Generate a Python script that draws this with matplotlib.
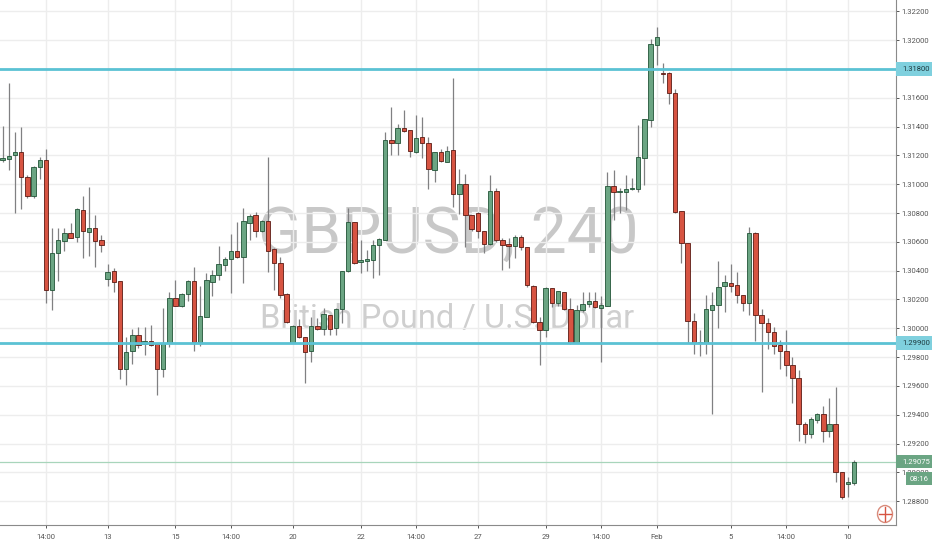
import matplotlib
matplotlib.use("Agg")
import matplotlib.pyplot as plt
from matplotlib.patches import Rectangle, Ellipse
from matplotlib.transforms import blended_transform_factory
import numpy as np

# GBPUSD 4h candles
opens = [1.31171, 1.31175, 1.31201, 1.31224, 1.31053, 1.30918, 1.31117, 1.31168, 1.30266, 1.30520,
         1.30608, 1.30664, 1.30636, 1.30821, 1.30671, 1.30694, 1.30613, 1.30342, 1.30395, 1.30328,
         1.29720, 1.29842, 1.29951, 1.29889, 1.29912, 1.29891, 1.29715, 1.29900, 1.30213, 1.30157,
         1.30236, 1.30328, 1.29905, 1.30081, 1.30324, 1.30368, 1.30439, 1.30481, 1.30537, 1.30497,
         1.30733, 1.30784, 1.30675, 1.30745, 1.30548, 1.30456, 1.30236, 1.29900, 1.30016, 1.29937,
         1.29842, 1.30016, 1.29997, 1.30090, 1.30004, 1.30132, 1.30395, 1.30736, 1.30458, 1.30470,
         1.30476, 1.30578, 1.30613, 1.31307, 1.31284, 1.31388, 1.31377, 1.31226, 1.31326, 1.31284,
         1.31099, 1.31226, 1.31157, 1.31238, 1.30930, 1.31002, 1.30787, 1.30798, 1.30678, 1.30585,
         1.30955, 1.30613, 1.30583, 1.30571, 1.30636, 1.30567, 1.30296, 1.30046, 1.29988, 1.30277,
         1.30173, 1.30250, 1.30136, 1.29896, 1.30127, 1.30169, 1.30192, 1.30139, 1.30157, 1.30988,
         1.30946, 1.30946, 1.30965, 1.30965, 1.31185, 1.31446, 1.31967, 1.31775, 1.31770, 1.31636,
         1.30817, 1.30594, 1.30053, 1.29900, 1.29900, 1.30127, 1.30159, 1.30294, 1.30317, 1.30301,
         1.30231, 1.30178, 1.30664, 1.30090, 1.30039, 1.29977, 1.29884, 1.29845, 1.29743, 1.29657,
         1.29333, 1.29264, 1.29363, 1.29405, 1.29289, 1.29333, 1.29005, 1.28921, 1.28928]
highs = [1.31404, 1.31701, 1.31365, 1.31395, 1.31064, 1.31127, 1.31191, 1.31242, 1.30694, 1.30694,
         1.30694, 1.30729, 1.30833, 1.30918, 1.30979, 1.30787, 1.30645, 1.30446, 1.30416, 1.30328,
         1.29942, 1.29993, 1.30007, 1.30007, 1.30023, 1.29891, 1.30143, 1.30250, 1.30335, 1.30243,
         1.30335, 1.30423, 1.30294, 1.30382, 1.30405, 1.30571, 1.30497, 1.30655, 1.30740, 1.30833,
         1.30793, 1.30810, 1.30752, 1.31191, 1.30555, 1.30493, 1.30243, 1.30023, 1.30062, 1.29937,
         1.30081, 1.30069, 1.30139, 1.30092, 1.30139, 1.30400, 1.30837, 1.30736, 1.30613, 1.30544,
         1.30613, 1.30625, 1.31365, 1.31539, 1.31416, 1.31515, 1.31377, 1.31481, 1.31465, 1.31330,
         1.31226, 1.31242, 1.31266, 1.31735, 1.31104, 1.31071, 1.30787, 1.30810, 1.30678, 1.31064,
         1.30972, 1.30625, 1.30625, 1.30648, 1.30648, 1.30567, 1.30301, 1.30081, 1.30289, 1.30277,
         1.30261, 1.30254, 1.30208, 1.30162, 1.30254, 1.30254, 1.30254, 1.30224, 1.31087, 1.31099,
         1.30972, 1.31064, 1.31041, 1.31411, 1.31451, 1.32006, 1.32094, 1.31844, 1.31782, 1.31659,
         1.30817, 1.30594, 1.30104, 1.29988, 1.30231, 1.30254, 1.30467, 1.30368, 1.30444, 1.30393,
         1.30231, 1.30706, 1.30669, 1.30132, 1.30069, 1.30011, 1.29919, 1.29988, 1.29803, 1.29711,
         1.29352, 1.29387, 1.29410, 1.29463, 1.29514, 1.29590, 1.29005, 1.28970, 1.29086]
lows = [1.31157, 1.31099, 1.30798, 1.30826, 1.30902, 1.30902, 1.31036, 1.30173, 1.30127, 1.30331,
        1.30539, 1.30625, 1.30601, 1.30486, 1.30504, 1.30428, 1.30532, 1.30296, 1.30254, 1.29646,
        1.29606, 1.29752, 1.29861, 1.29815, 1.29877, 1.29537, 1.29664, 1.29868, 1.30157, 1.30150,
        1.30192, 1.29842, 1.29877, 1.30081, 1.30224, 1.30335, 1.30400, 1.30247, 1.30486, 1.30312,
        1.30613, 1.30636, 1.30671, 1.30393, 1.30266, 1.30208, 1.30034, 1.29896, 1.29930, 1.29618,
        1.29768, 1.29988, 1.29953, 1.29953, 1.29953, 1.30034, 1.30393, 1.30446, 1.30386, 1.30400,
        1.30347, 1.30370, 1.30613, 1.31203, 1.31203, 1.31365, 1.31191, 1.31215, 1.31180, 1.30965,
        1.31018, 1.31157, 1.31157, 1.30844, 1.30791, 1.30567, 1.30675, 1.30625, 1.30520, 1.30578,
        1.30601, 1.30405, 1.30416, 1.30486, 1.30544, 1.30289, 1.30035, 1.29745, 1.29942, 1.30150,
        1.30155, 1.30127, 1.29891, 1.29896, 1.30115, 1.30150, 1.30139, 1.29768, 1.30157, 1.30752,
        1.30798, 1.30821, 1.30960, 1.30949, 1.30995, 1.31395, 1.31828, 1.31701, 1.31557, 1.30798,
        1.30451, 1.29896, 1.29822, 1.29810, 1.29822, 1.29405, 1.30004, 1.30115, 1.30254, 1.30178,
        1.30120, 1.30092, 1.29912, 1.29555, 1.29854, 1.29822, 1.29715, 1.29671, 1.29479, 1.29220,
        1.29206, 1.29236, 1.29345, 1.29208, 1.29243, 1.28935, 1.28815, 1.28831, 1.28912]
closes = [1.31180, 1.31198, 1.31224, 1.31048, 1.30918, 1.31122, 1.31168, 1.30266, 1.30525, 1.30613,
          1.30664, 1.30629, 1.30828, 1.30675, 1.30694, 1.30608, 1.30578, 1.30393, 1.30324, 1.29720,
          1.29838, 1.29951, 1.29884, 1.29914, 1.29884, 1.29715, 1.29900, 1.30213, 1.30157, 1.30238,
          1.30328, 1.29905, 1.30085, 1.30335, 1.30368, 1.30444, 1.30481, 1.30537, 1.30497, 1.30747,
          1.30780, 1.30675, 1.30745, 1.30539, 1.30456, 1.30229, 1.30046, 1.30016, 1.29942, 1.29835,
          1.30016, 1.29993, 1.30097, 1.29997, 1.30132, 1.30400, 1.30736, 1.30451, 1.30474, 1.30483,
          1.30576, 1.30620, 1.31307, 1.31284, 1.31388, 1.31372, 1.31233, 1.31319, 1.31284, 1.31108,
          1.31226, 1.31164, 1.31231, 1.30930, 1.31002, 1.30787, 1.30687, 1.30675, 1.30585, 1.30955,
          1.30613, 1.30578, 1.30571, 1.30632, 1.30567, 1.30301, 1.30046, 1.29988, 1.30277, 1.30173,
          1.30261, 1.30136, 1.29896, 1.30127, 1.30169, 1.30192, 1.30146, 1.30162, 1.30988, 1.30949,
          1.30953, 1.30969, 1.30974, 1.31187, 1.31451, 1.31971, 1.32020, 1.31765, 1.31636, 1.30810,
          1.30594, 1.30053, 1.29900, 1.29907, 1.30132, 1.30162, 1.30289, 1.30319, 1.30294, 1.30229,
          1.30178, 1.30664, 1.30090, 1.30039, 1.29974, 1.29879, 1.29842, 1.29743, 1.29653, 1.29333,
          1.29264, 1.29368, 1.29405, 1.29289, 1.29336, 1.29005, 1.28827, 1.28931, 1.29075]

time_labels = ["14:00", "13", "15", "14:00", "20", "22", "14:00", "27", "29", "14:00", "Feb", "5", "14:00", "10"]
time_label_bars = [7, 17, 28, 37, 47, 58, 67, 77, 88, 97, 106, 118, 127, 137]

levels = [1.31800, 1.29900]
last_price = 1.29075
countdown = "08:16"

UP = "#6ba583"
DOWN = "#d75442"
UP_EDGE = "#225437"
DOWN_EDGE = "#5b1a13"
WICK = "#808082"
LEVEL_COLOR = "#5bc2d4"
GRID = "#ededed"
TEXT = "#555555"

plt.rcParams["font.family"] = ["Roboto", "DejaVu Sans"]

W, H = 932, 550
fig = plt.figure(figsize=(W / 100, H / 100), dpi=100)
ax = fig.add_axes([0.0, 1 - 525 / H, 896 / W, 525 / H])

o = np.array(opens)
h = np.array(highs)
l = np.array(lows)
c = np.array(closes)
x = np.arange(len(o))
up = c >= o

# watermark
ax.text(0.5006, 0.518, "GBPUSD, 240", transform=ax.transAxes, ha="center", va="baseline",
        fontsize=46, color="#c8c8c8", zorder=0)
ax.text(0.499, 0.375, "British Pound / U.S. Dollar", transform=ax.transAxes, ha="center", va="baseline",
        fontsize=23.5, color="#cfcfcf", zorder=0)

# wicks then bodies
ax.vlines(x, l, h, color=WICK, linewidth=0.9, zorder=2)
body = np.maximum(np.abs(c - o), 0.00003)
bottom = np.minimum(o, c)
ax.bar(x[up], body[up], bottom=bottom[up], width=0.72, color=UP, edgecolor=UP_EDGE, linewidth=0.6, zorder=3)
ax.bar(x[~up], body[~up], bottom=bottom[~up], width=0.72, color=DOWN, edgecolor=DOWN_EDGE, linewidth=0.6, zorder=3)

for lv in levels:
    ax.axhline(lv, color=LEVEL_COLOR, linewidth=2.0, zorder=4)
ax.axhline(last_price, color="#a8d5bb", linewidth=0.9, zorder=1)

ax.set_xlim(-0.44, 144.78)
ax.set_ylim(1.286344, 1.32279)

yt = np.arange(1.288, 1.3221, 0.002)
ax.set_yticks(yt)
ax.set_yticklabels(["%.5f" % v for v in yt])
ax.yaxis.tick_right()
ax.set_xticks(time_label_bars)
ax.set_xticklabels(time_labels)
ax.tick_params(axis="both", labelsize=5.5, colors=TEXT, length=2.5, width=0.7)
ax.tick_params(axis="y", pad=1.5)
ax.tick_params(axis="x", pad=4)
ax.grid(True, color=GRID, linewidth=1.0, zorder=0)
ax.set_axisbelow(True)

for s in ["left", "top"]:
    ax.spines[s].set_visible(False)
ax.spines["right"].set_color("#8a8a8a")
ax.spines["bottom"].set_color("#8a8a8a")

# price scale labels
px = 0.036446 / 525  # price per pixel
tr = blended_transform_factory(fig.transFigure, ax.transData)
for lv in levels:
    ax.add_patch(Rectangle((896 / W, lv - 7 * px), 36 / W, 14 * px, transform=tr, fc="#7fd0de",
                           ec="none", clip_on=False, zorder=10))
    ax.text(902 / W, lv, "%.5f" % lv, transform=tr, ha="left", va="center", fontsize=5.5,
            color="#1e3a40", zorder=11, clip_on=False)
ax.add_patch(Rectangle((896 / W, last_price - 6.5 * px), 36 / W, 13 * px, transform=tr, fc=UP,
                       ec="none", clip_on=False, zorder=10))
ax.text(902 / W, last_price, "%.5f" % last_price, transform=tr, ha="left", va="center", fontsize=5.5,
        color="white", zorder=11, clip_on=False)
ax.add_patch(Rectangle((906 / W, last_price - 23.5 * px), 26 / W, 13 * px, transform=tr, fc=UP,
                       ec="none", clip_on=False, zorder=10))
ax.text(919 / W, last_price - 17 * px, countdown, transform=tr, ha="center", va="center", fontsize=5.5,
        color="white", zorder=11, clip_on=False)

# small flag badge in the corner
fig.add_artist(Ellipse((885 / W, 1 - 514 / H), 15 / W, 17 / H, transform=fig.transFigure,
                       fill=False, ec="#d98c7c", lw=1.0))
fig.add_artist(plt.Line2D([879 / W, 891 / W], [1 - 514 / H, 1 - 514 / H], transform=fig.transFigure,
                          color="#d75442", lw=1.0))
fig.add_artist(plt.Line2D([885 / W, 885 / W], [1 - 507 / H, 1 - 521 / H], transform=fig.transFigure,
                          color="#d75442", lw=1.0))

fig.savefig("out.png", dpi=100)
